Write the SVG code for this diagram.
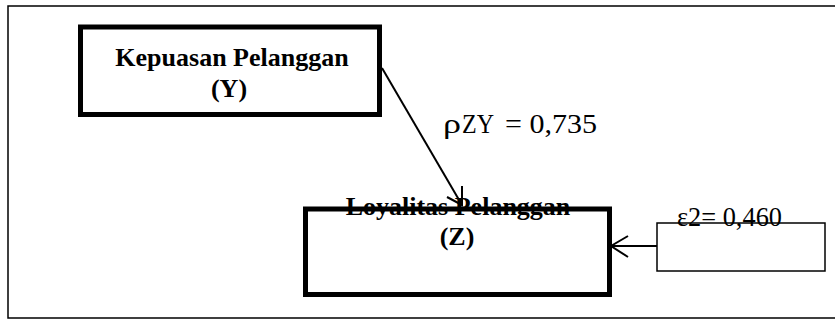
<svg xmlns="http://www.w3.org/2000/svg" width="835" height="320" viewBox="0 0 835 320">
<style>
.frame{fill:none;stroke:#000;stroke-width:1.5}
.node{fill:#fff;stroke:#000;stroke-width:5}
.err{fill:#fff;stroke:#000;stroke-width:1.5}
.lbl{font-family:"Liberation Serif","Times New Roman",serif;font-weight:bold;font-size:26px;text-anchor:middle;fill:#000}
.val{font-family:"Liberation Serif","Times New Roman",serif;font-size:27px;fill:#000}
.conn{stroke:#000;stroke-width:2;fill:none}
</style>
<rect width="835" height="320" fill="#fff"/>
<path class="frame" d="M835 6 H8 V318 H835"/>
<g id="node-y">
<rect class="node" x="80.5" y="27" width="299" height="87.5"/>
<text class="lbl" x="232" y="66">Kepuasan Pelanggan</text>
<text class="lbl" x="229" y="97">(Y)</text>
</g>
<g id="node-z">
<rect class="node" x="305.5" y="209" width="304" height="85.5"/>
<text class="lbl" x="458" y="215">Loyalitas Pelanggan</text>
<text class="lbl" x="457" y="245">(Z)</text>
</g>
<g id="node-e2">
<rect class="err" x="657" y="223" width="168" height="48"/>
<text class="val" x="677" y="226" font-size="26" textLength="105" lengthAdjust="spacingAndGlyphs">ε2= 0,460</text>
</g>
<g id="connectors">
<line class="conn" x1="382" y1="68" x2="462" y2="205"/>
<path class="conn" d="M447 197 L462 205 L462 186"/>
<line class="conn" x1="657" y1="246" x2="611" y2="246"/>
<path class="conn" d="M628 236 L611 246 L628 257"/>
<text class="val" x="443" y="133" font-size="33" textLength="18" lengthAdjust="spacingAndGlyphs">ρ</text>
<text class="val" x="462" y="133" font-size="16" textLength="32" lengthAdjust="spacingAndGlyphs">ZY</text>
<text class="val" x="505" y="133" textLength="92" lengthAdjust="spacingAndGlyphs">= 0,735</text>
</g>
</svg>
